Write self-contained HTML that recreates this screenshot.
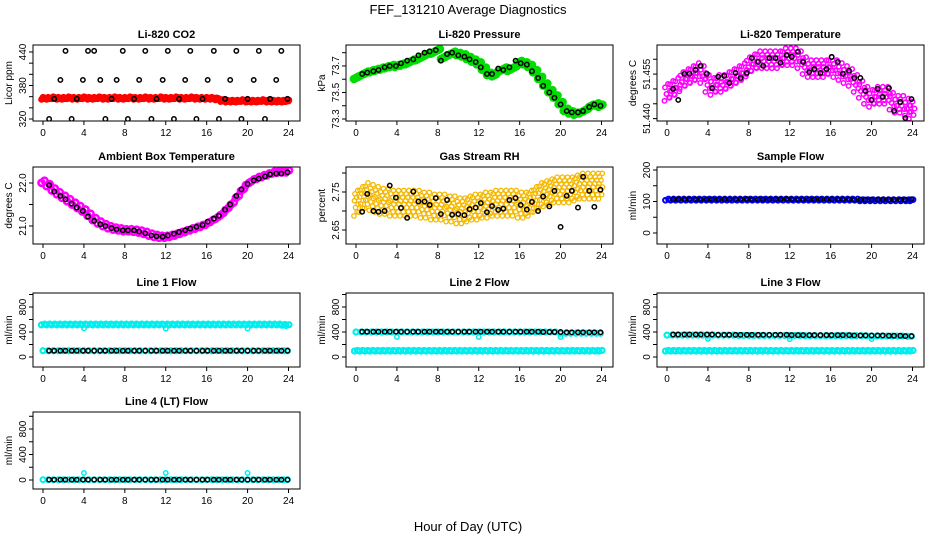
<!DOCTYPE html>
<html><head><meta charset="utf-8"><style>
html,body{margin:0;padding:0;background:#fff;}
svg{display:block;font-family:"Liberation Sans",Arial,sans-serif;}
</style></head><body>
<svg id="chart" width="936" height="540" viewBox="0 0 936 540">
<text x="468" y="14" text-anchor="middle" font-size="13">FEF_131210  Average Diagnostics</text>
<text x="468" y="531" text-anchor="middle" font-size="13">Hour of Day (UTC)</text>
</svg>
<script>
const blackT=[0.6,1.1,1.7,2.2,2.8,3.3,3.9,4.4,5.0,5.6,6.1,6.7,7.2,7.8,8.3,8.9,9.4,10.0,10.6,11.1,11.7,12.2,12.8,13.3,13.9,14.4,15.0,15.6,16.1,16.7,17.2,17.8,18.3,18.9,19.4,20.0,20.6,21.1,21.7,22.2,22.8,23.3,23.9];
const halfT=[0,0.5,1,1.5,2,2.5,3,3.5,4,4.5,5,5.5,6,6.5,7,7.5,8,8.5,9,9.5,10,10.5,11,11.5,12,12.5,13,13.5,14,14.5,15,15.5,16,16.5,17,17.5,18,18.5,19,19.5,20,20.5,21,21.5,22,22.5,23,23.5,23.9];
const xTicks=[0,4,8,12,16,20,24];
// CO2
const co2Black=[320,356,390,442,320,356,390,442,442,390,320,356,390,442,320,356,390,442,320,356,390,442,320,356,390,442,320,356,390,442,320,356,390,442,320,356,390,442,320,356,390,442,356];
const co2Red=[357,357,358,357,357,358,357,357,358,357,357,358,357,357,358,357,357,358,357,357,358,357,357,358,357,357,358,357,357,358,357,357,357,357,356,353,352,352,352,353,352,352,352,353,352,352,352,352,353];
// Pressure
const presBlack=[73.64,73.65,73.66,73.67,73.69,73.70,73.70,73.72,73.74,73.75,73.78,73.80,73.81,73.82,73.74,73.79,73.80,73.78,73.77,73.75,73.73,73.69,73.64,73.64,73.68,73.67,73.69,73.74,73.72,73.71,73.66,73.61,73.55,73.50,73.46,73.41,73.36,73.35,73.35,73.36,73.39,73.41,73.40];
const presGreen=[73.61,73.63,73.65,73.66,73.67,73.68,73.69,73.70,73.70,73.71,73.72,73.74,73.75,73.77,73.79,73.80,73.82,73.76,73.78,73.80,73.79,73.78,73.76,73.74,73.72,73.68,73.64,73.63,73.66,73.68,73.67,73.69,73.73,73.72,73.70,73.66,73.61,73.56,73.51,73.47,73.42,73.37,73.35,73.34,73.35,73.37,73.40,73.41,73.40];
// Temperature
const tempBlack=[51.4500,51.4463,51.4551,51.4551,51.4564,51.4578,51.4551,51.4503,51.4541,51.4544,51.4520,51.4554,51.4537,51.4554,51.4604,51.4591,51.4578,51.4604,51.4604,51.4588,51.4614,51.4608,51.4625,51.4591,51.4557,51.4567,51.4554,51.4567,51.4608,51.4591,51.4551,51.4561,51.4537,51.4537,51.4493,51.4463,51.4500,51.4473,51.4503,51.4426,51.4456,51.4402,51.4466];
const tempMag=[51.449,51.450,51.451,51.453,51.454,51.455,51.456,51.455,51.452,51.451,51.452,51.452,51.453,51.454,51.455,51.456,51.458,51.459,51.460,51.460,51.460,51.460,51.460,51.461,51.461,51.461,51.460,51.458,51.457,51.457,51.457,51.457,51.458,51.457,51.456,51.455,51.454,51.452,51.450,51.448,51.447,51.448,51.448,51.448,51.446,51.445,51.445,51.444,51.443];
// Ambient
const ambBlack=[21.95,21.80,21.70,21.62,21.52,21.43,21.35,21.22,21.12,21.04,21.00,20.95,20.92,20.90,20.90,20.90,20.87,20.83,20.78,20.76,20.75,20.78,20.82,20.86,20.90,20.94,20.98,21.02,21.10,21.17,21.24,21.38,21.50,21.70,21.85,21.98,22.06,22.10,22.15,22.20,22.22,22.22,22.25];
const ambMag=[22.03,21.95,21.85,21.76,21.68,21.60,21.52,21.44,21.36,21.26,21.16,21.08,21.02,20.97,20.94,20.92,20.90,20.90,20.89,20.87,20.84,20.80,20.77,20.75,20.75,20.77,20.80,20.84,20.88,20.92,20.96,21.00,21.05,21.12,21.19,21.28,21.40,21.52,21.68,21.84,21.98,22.06,22.12,22.16,22.20,22.24,22.26,22.27,22.27];
// RH
const rhBlack=[2.698,2.745,2.700,2.698,2.700,2.767,2.735,2.708,2.682,2.751,2.725,2.725,2.716,2.734,2.692,2.729,2.690,2.692,2.689,2.705,2.709,2.721,2.697,2.713,2.703,2.706,2.729,2.734,2.716,2.704,2.724,2.700,2.738,2.712,2.753,2.658,2.740,2.753,2.709,2.790,2.753,2.711,2.756];
const rhOrange=[2.72,2.73,2.74,2.735,2.73,2.725,2.725,2.72,2.72,2.72,2.72,2.72,2.72,2.715,2.715,2.71,2.71,2.71,2.705,2.705,2.70,2.70,2.705,2.71,2.71,2.715,2.715,2.72,2.72,2.72,2.72,2.72,2.715,2.715,2.72,2.73,2.74,2.745,2.75,2.755,2.755,2.755,2.755,2.76,2.765,2.765,2.765,2.765,2.765];
// Flows
const sampleBlack=[107,107,107,107,107,107,107,107,107,107,107,107,107,108,107,107,107,107,107,107,108,107,107,107,107,107,107,107,107,107,107,107,106,106,106,106,106,106,106,106,106,106,107];
const sampleBlue=[106,106,106,106,106,106,106,106,106,106,106,106,106,106,106,106,106,106,106,106,106,106,106,106,106,106,106,106,106,106,106,106,106,106,106,106,106,106,104,104,104,104,104,104,104,104,104,104,104];
const l1Black=[100,100,100,100,100,100,100,100,100,100,100,100,100,100,100,100,100,100,100,100,100,100,100,100,100,100,100,100,100,100,100,100,100,100,100,100,100,100,100,100,100,100,100];
const l1CyanHi=[520,520,520,520,520,520,520,520,520,520,520,520,520,520,520,520,520,520,520,520,520,520,520,520,520,520,520,520,520,520,520,520,520,520,520,520,520,520,520,520,520,520,520,520,520,520,520,515,510];
const l1CyanLo=[100,100,100,100,100,100,100,100,100,100,100,100,100,100,100,100,100,100,100,100,100,100,100,100,100,100,100,100,100,100,100,100,100,100,100,100,100,100,100,100,100,100,100,100,100,100,100,100,100];
const dipT=[4,12,20];
const l1Dips=[460,455,455];
const l2Black=[405,405,405,405,405,405,405,405,405,405,405,405,405,405,405,405,405,405,405,405,405,405,405,405,405,405,405,405,405,405,405,405,400,400,400,400,395,395,395,395,395,395,395];
const l2CyanHi=[400,400,400,400,400,400,400,400,400,400,400,400,400,400,400,400,400,400,400,400,400,400,400,400,400,400,400,400,400,400,400,400,400,400,400,400,400,400,400,400,380,380,380,380,380,380,380,380,380];
const l2CyanLo=[100,100,100,100,100,100,100,100,100,100,100,100,100,100,100,100,100,100,100,100,100,100,100,100,100,100,100,100,100,100,100,100,100,100,100,100,100,100,100,100,100,100,100,100,100,100,100,100,100];
const l2Dips=[320,320,320];
const l3Black=[360,360,360,360,360,360,360,360,355,355,355,355,355,355,355,355,355,355,355,355,355,350,350,350,350,350,350,350,350,350,350,350,345,345,345,345,345,345,340,340,340,335,335];
const l3CyanHi=[350,350,350,350,350,350,350,350,350,350,350,350,350,350,345,345,345,345,345,345,345,345,345,345,345,345,345,340,340,340,340,340,340,340,340,340,340,340,340,340,335,335,335,335,335,335,335,330,330];
const l3CyanLo=[100,100,100,100,100,100,100,100,100,100,100,100,100,100,100,100,100,100,100,100,100,100,100,100,100,100,100,100,100,100,100,100,100,100,100,100,100,100,100,100,100,100,100,100,100,100,100,100,100];
const l3Dips=[290,285,285];
const l4Black=[5,5,5,5,5,5,5,5,5,5,5,5,5,5,5,5,5,5,5,5,5,5,5,5,5,5,5,5,5,5,5,5,5,5,5,5,5,5,5,5,5,5,5];
const l4Cyan=[5,5,5,5,5,5,5,5,5,5,5,5,5,5,5,5,5,5,5,5,5,5,5,5,5,5,5,5,5,5,5,5,5,5,5,5,5,5,5,5,5,5,5,5,5,5,5,5,5];
const l4Spikes=[110,110,110];

const NS='http://www.w3.org/2000/svg';
const svg=document.getElementById('chart');
function mk(tag,attrs,parent){const e=document.createElementNS(NS,tag);for(const k in attrs)e.setAttribute(k,attrs[k]);(parent||svg).appendChild(e);return e;}
const colL=[33,346,657], rowT=[45,167,293,412], rowH=[76,77,74,77], BW=267;

function panel(c,r,title,ylab,dmin,dmax,yticks,ylabels,key,series){
  const L=colL[c],T=rowT[r],H=rowH[r];
  const g=mk('g',{});
  
  
  const xs=t=>L+10+t*(245.5/24);
  const ys=v=>T+(dmax-v)/(dmax-dmin)*H;
  const clip=mk('clipPath',{id:'cp'+key},g);mk('rect',{x:L,y:T,width:BW,height:H},clip);
  const pg=mk('g',{'clip-path':'url(#cp'+key+')'},g);
  series.forEach(s=>{
    const sg=mk('g',{},pg);
    
    
    const jv=s.jit||[0], jx=s.jx||[0];
    s.v.forEach((v,i)=>{
      jv.forEach((d,k)=>{
        const cc=mk('circle',{cx:xs(s.t[i]+jx[k%jx.length]),cy:ys(v+d),r:s.r||2.2,fill:s.fill||'none',stroke:s.col,'stroke-width':s.sw||1.5},sg);
        
        
      });
    });
  });
  const box=mk('rect',{x:L,y:T,width:BW,height:H,fill:'none',stroke:'#000','stroke-width':1},g);
  
  
  const tt=mk('text',{x:L+BW/2,y:T-7,'text-anchor':'middle','font-size':11,'font-weight':'bold'},g);tt.textContent=title;
  
  
  xTicks.forEach(t=>{
    mk('line',{x1:xs(t),x2:xs(t),y1:T+H,y2:T+H+4,stroke:'#000'},g);
    const tx=mk('text',{x:xs(t),y:T+H+15,'text-anchor':'middle','font-size':10},g);tx.textContent=t;
    
    
  });
  yticks.forEach(v=>mk('line',{x1:L-4,x2:L,y1:ys(v),y2:ys(v),stroke:'#000'},g));
  ylabels.forEach(v=>{
    const y=ys(v);
    const tx=mk('text',{x:L-7,y:y,'text-anchor':'middle','font-size':10,transform:'rotate(-90 '+(L-7)+' '+y+')'},g);tx.textContent=v;
    
    
  });
  const yl=T+H/2;
  const yt=mk('text',{x:L-21,y:yl,'text-anchor':'middle','font-size':10,transform:'rotate(-90 '+(L-21)+' '+yl+')'},g);yt.textContent=ylab;
  
  
}
const flowTicks=[0,200,400,600,800,1000], flowLabels=['0','400','800'];
const J5=[-2,-1,0,1,2], JX=[-0.15,0.1,-0.05,0.15,0];
panel(0,0,'Li-820 CO2','Licor ppm',316.4,452.5,[320,340,360,380,400,420,440],['320','380','440'],'co2',[
 {name:'red-series',t:halfT,v:co2Red,col:'#ff0000',r:2.3,sw:2,jit:J5,jx:JX},
 {name:'black-series',t:blackT,v:co2Black,col:'#000'}]);
panel(1,0,'Li-820 Pressure','kPa',73.285,73.858,[73.3,73.4,73.5,73.6,73.7,73.8],['73.3','73.5','73.7'],'pressure',[
 {name:'green-series',t:halfT,v:presGreen,col:'#00dd00',r:3,sw:2.6,jit:[-0.008,0,0.008],jx:[-0.2,0,0.2]},
 {name:'black-series',t:blackT,v:presBlack,col:'#000'}]);
panel(2,0,'Li-820 Temperature','degrees C',51.4392,51.4648,[51.440,51.445,51.450,51.455,51.460],['51.440','51.455'],'temperature',[
 {name:'magenta-series',t:halfT,v:tempMag,col:'#ff00ff',r:2.2,sw:1.5,jit:[-0.003,-0.0018,-0.0007,0.0004,0.0015,0.0027],jx:[-0.25,0.2,-0.05,0.3,-0.2,0.1]},
 {name:'black-series',t:blackT,v:tempBlack,col:'#000'}]);
panel(0,1,'Ambient Box Temperature','degrees C',20.581,22.372,[21.0,21.5,22.0],['21.0','22.0'],'ambient',[
 {name:'magenta-series',t:halfT,v:ambMag,col:'#ff00ff',r:3,sw:2.6,jit:[-0.025,0.025],jx:[-0.15,0.15]},
 {name:'black-series',t:blackT,v:ambBlack,col:'#000'}]);
panel(1,1,'Gas Stream RH','percent',2.6132,2.8158,[2.65,2.70,2.75,2.80],['2.65','2.75'],'rh',[
 {name:'orange-series',t:halfT,v:rhOrange,col:'#f5b800',r:2.2,sw:1.3,jit:[-0.033,-0.022,-0.011,-0.002,0.007,0.016,0.025,0.034],jx:[-0.2,0.12,-0.05,0.2,-0.15,0.05,-0.1,0.17]},
 {name:'black-series',t:blackT,v:rhBlack,col:'#000'}]);
panel(2,1,'Sample Flow','ml/min',-34.9,209.5,[0,50,100,150,200],['0','100','200'],'sample-flow',[
 {name:'blue-series',t:halfT,v:sampleBlue,col:'#0000ff',r:2.4,sw:2,jit:[-2,2],jx:[-0.15,0.15]},
 {name:'black-series',t:blackT,v:sampleBlack,col:'#000'}]);
panel(0,2,'Line 1 Flow','ml/min',-160,1024,flowTicks,flowLabels,'line1-flow',[
 {name:'cyan-high',t:halfT,v:l1CyanHi,col:'#00eeee',r:2.5,sw:2.2,jit:[-6,6],jx:[-0.15,0.15]},
 {name:'cyan-dips',t:dipT,v:l1Dips,col:'#00eeee'},
 {name:'cyan-low',t:halfT,v:l1CyanLo,col:'#00eeee',r:2.5,sw:2.2},
 {name:'black-series',t:blackT,v:l1Black,col:'#000'}]);
panel(1,2,'Line 2 Flow','ml/min',-160,1024,flowTicks,flowLabels,'line2-flow',[
 {name:'cyan-high',t:halfT,v:l2CyanHi,col:'#00eeee',r:2.5,sw:2.2},
 {name:'cyan-dips',t:dipT,v:l2Dips,col:'#00eeee'},
 {name:'cyan-low',t:halfT,v:l2CyanLo,col:'#00eeee',r:2.5,sw:2.2,jit:[-5,5],jx:[-0.15,0.15]},
 {name:'black-series',t:blackT,v:l2Black,col:'#000'}]);
panel(2,2,'Line 3 Flow','ml/min',-160,1024,flowTicks,flowLabels,'line3-flow',[
 {name:'cyan-high',t:halfT,v:l3CyanHi,col:'#00eeee',r:2.5,sw:2.2},
 {name:'cyan-dips',t:dipT,v:l3Dips,col:'#00eeee'},
 {name:'cyan-low',t:halfT,v:l3CyanLo,col:'#00eeee',r:2.5,sw:2.2,jit:[-5,5],jx:[-0.15,0.15]},
 {name:'black-series',t:blackT,v:l3Black,col:'#000'}]);
panel(0,3,'Line 4 (LT) Flow','ml/min',-141,1067,flowTicks,flowLabels,'line4-flow',[
 {name:'cyan-series',t:halfT,v:l4Cyan,col:'#00eeee',r:2.5,sw:2},
 {name:'cyan-spikes',t:dipT,v:l4Spikes,col:'#00eeee'},
 {name:'black-series',t:blackT,v:l4Black,col:'#000'}]);
</script>
</body></html>
